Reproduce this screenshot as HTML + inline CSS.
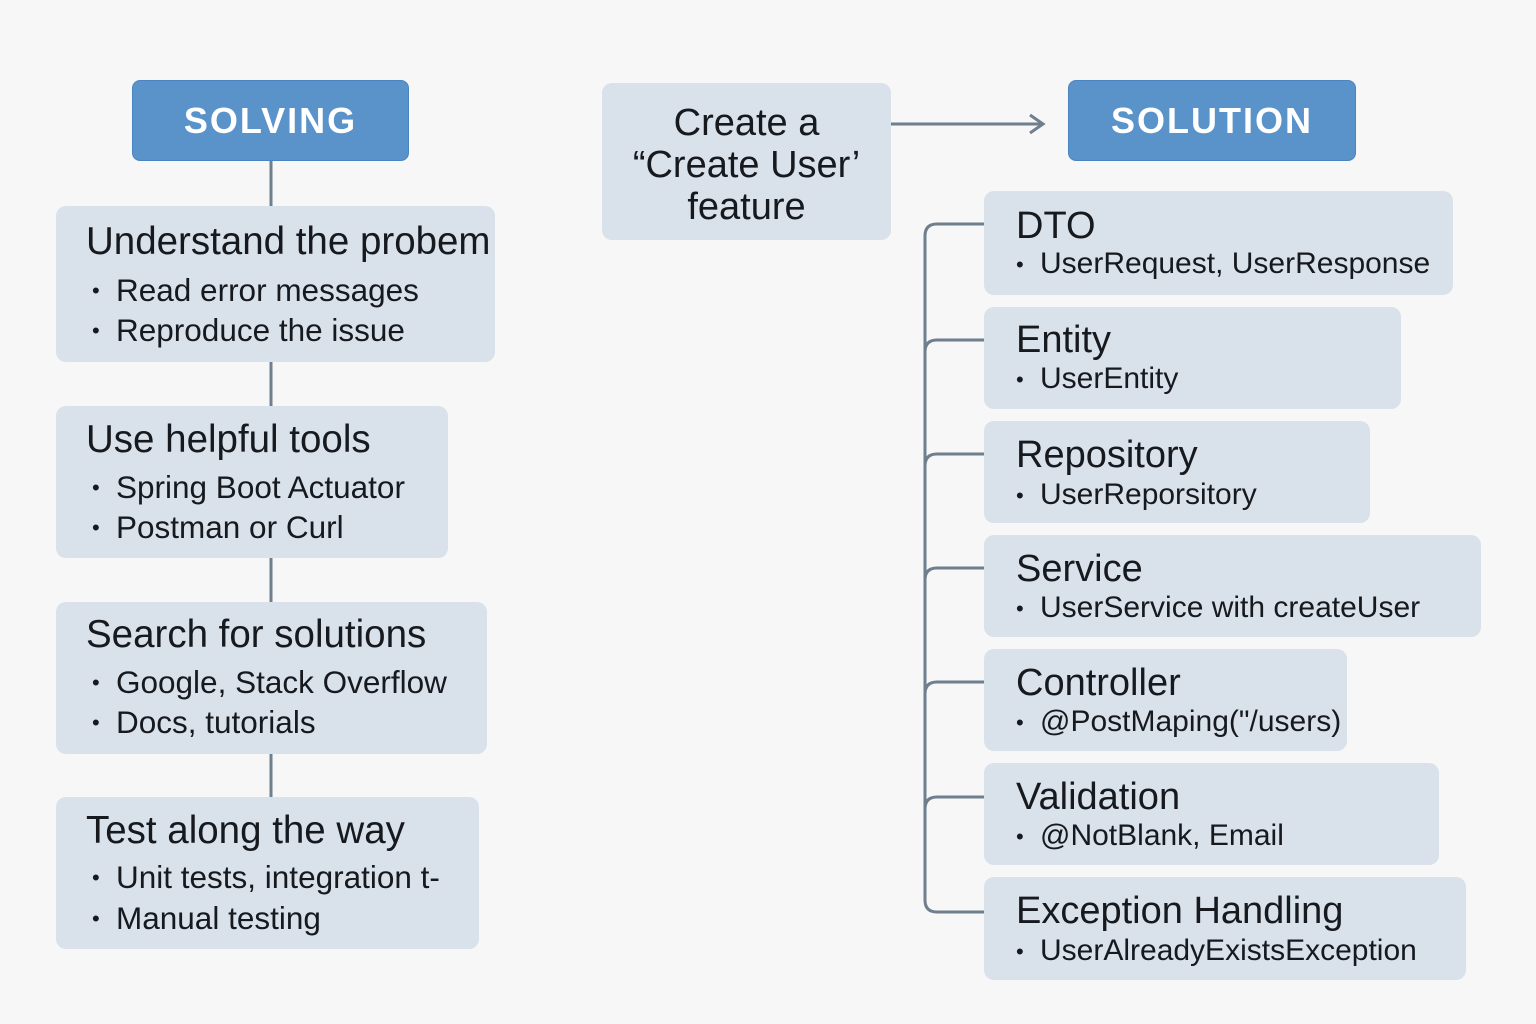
<!DOCTYPE html>
<html><head><meta charset="utf-8"><style>
body{margin:0;width:1536px;height:1024px;background:#f7f7f7;font-family:"Liberation Sans",sans-serif;position:relative;overflow:hidden;color:#16191e}
.hd{position:absolute;background:#5a93c9;border:1.5px solid #4a85c2;border-radius:8px;color:#fff;font-weight:bold;font-size:36px;letter-spacing:2px;display:flex;align-items:center;justify-content:center;box-sizing:border-box}
.bx{position:absolute;background:#d9e1ea;border-radius:10px;box-sizing:border-box}
.t{position:absolute;font-size:38px;white-space:nowrap;line-height:1}
.l .t{font-size:38.5px}
.b{position:absolute;font-size:30px;white-space:nowrap;line-height:1}
.l .b{font-size:31.5px}
.b:before{content:"•";position:absolute;left:-24px;font-size:22px;top:5px}
</style></head><body>
<svg width="1536" height="1024" style="position:absolute;left:0;top:0">
<g stroke="#6f7f8e" stroke-width="3" fill="none">
<line x1="271" y1="160" x2="271" y2="206"/>
<line x1="271" y1="361" x2="271" y2="406"/>
<line x1="271" y1="557" x2="271" y2="602"/>
<line x1="271" y1="753" x2="271" y2="797"/>
<line x1="891" y1="124" x2="1042" y2="124"/>
<polyline points="1030,115 1043,124 1030,133"/>
<path d="M984 224 H937 Q925 224 925 236 V900 Q925 912 937 912 H984"/>
<path d="M984 340 H937 Q925 340 925 352"/>
<path d="M984 454 H937 Q925 454 925 466"/>
<path d="M984 568 H937 Q925 568 925 580"/>
<path d="M984 682 H937 Q925 682 925 694"/>
<path d="M984 797 H937 Q925 797 925 809"/>
</g></svg>
<div class="hd" style="left:132px;top:80px;width:277px;height:81px">SOLVING</div>
<div class="hd" style="left:1068px;top:80px;width:288px;height:81px">SOLUTION</div>

<div class="l">
<div class="bx" style="left:56px;top:206px;width:439px;height:156px"></div>
<div class="t" style="left:86px;top:223px">Understand the probem</div>
<div class="b" style="left:116px;top:275px">Read error messages</div>
<div class="b" style="left:116px;top:315px">Reproduce the issue</div>

<div class="bx" style="left:56px;top:406px;width:392px;height:152px"></div>
<div class="t" style="left:86px;top:421px">Use helpful tools</div>
<div class="b" style="left:116px;top:472px">Spring Boot Actuator</div>
<div class="b" style="left:116px;top:512px">Postman or Curl</div>

<div class="bx" style="left:56px;top:602px;width:431px;height:152px"></div>
<div class="t" style="left:86px;top:616px">Search for solutions</div>
<div class="b" style="left:116px;top:667px">Google, Stack Overflow</div>
<div class="b" style="left:116px;top:707px">Docs, tutorials</div>

<div class="bx" style="left:56px;top:797px;width:423px;height:152px"></div>
<div class="t" style="left:86px;top:812px">Test along the way</div>
<div class="b" style="left:116px;top:862px">Unit tests, integration t-</div>
<div class="b" style="left:116px;top:903px">Manual testing</div>
</div>

<div class="bx" style="left:602px;top:83px;width:289px;height:157px"></div>
<div class="t" style="left:602px;width:289px;text-align:center;top:102px;line-height:42px;white-space:normal">Create a<br>“Create User’<br>feature</div>

<div class="bx" style="left:984px;top:191px;width:469px;height:104px"></div>
<div class="t" style="left:1016px;top:207px">DTO</div>
<div class="b" style="left:1040px;top:249px">UserRequest, UserResponse</div>

<div class="bx" style="left:984px;top:307px;width:417px;height:102px"></div>
<div class="t" style="left:1016px;top:321px">Entity</div>
<div class="b" style="left:1040px;top:364px">UserEntity</div>

<div class="bx" style="left:984px;top:421px;width:386px;height:102px"></div>
<div class="t" style="left:1016px;top:436px">Repository</div>
<div class="b" style="left:1040px;top:480px">UserReporsitory</div>

<div class="bx" style="left:984px;top:535px;width:497px;height:102px"></div>
<div class="t" style="left:1016px;top:550px">Service</div>
<div class="b" style="left:1040px;top:593px">UserService with createUser</div>

<div class="bx" style="left:984px;top:649px;width:363px;height:102px"></div>
<div class="t" style="left:1016px;top:664px">Controller</div>
<div class="b" style="left:1040px;top:707px">@PostMaping("/users)</div>

<div class="bx" style="left:984px;top:763px;width:455px;height:102px"></div>
<div class="t" style="left:1016px;top:778px">Validation</div>
<div class="b" style="left:1040px;top:821px">@NotBlank, Email</div>

<div class="bx" style="left:984px;top:877px;width:482px;height:103px"></div>
<div class="t" style="left:1016px;top:892px">Exception Handling</div>
<div class="b" style="left:1040px;top:936px">UserAlreadyExistsException</div>
</body></html>
